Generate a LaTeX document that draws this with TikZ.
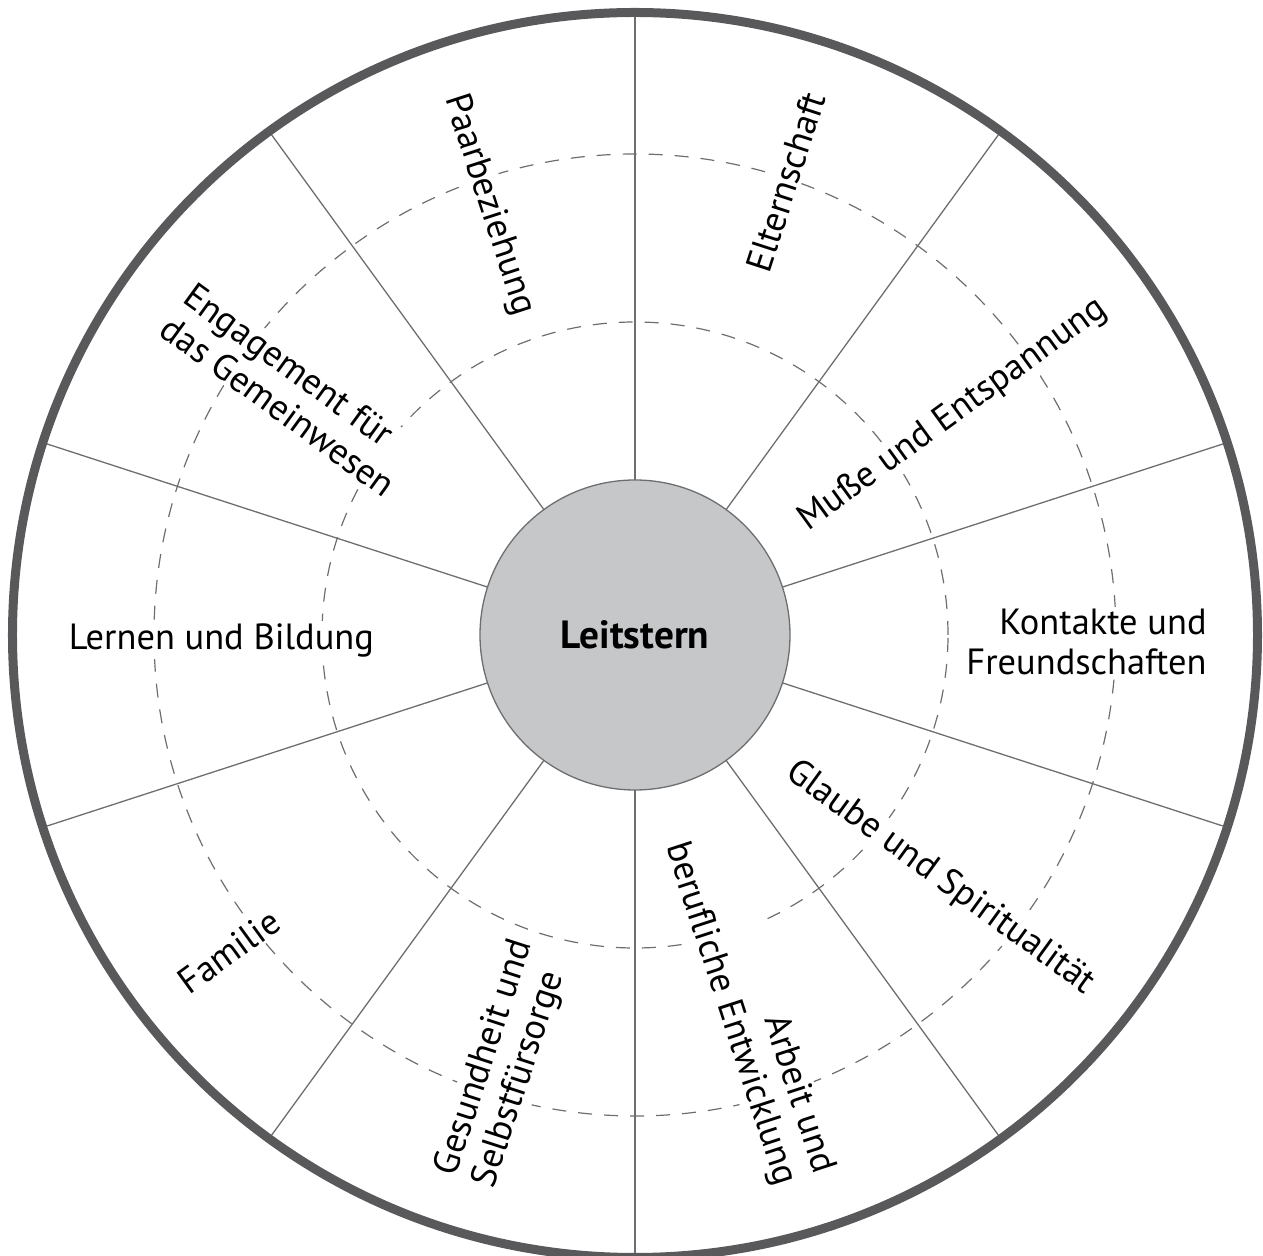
\documentclass[tikz,border=0pt]{standalone}
\usepackage{fontspec}
\setmainfont{PT Sans}
\definecolor{outergray}{HTML}{59595B}
\definecolor{linegray}{HTML}{6D6E71}
\definecolor{centergray}{HTML}{C6C7C9}
\newlength\reflen
\AtBeginDocument{%
  \settowidth\reflen{\normalfont\fontsize{10pt}{12pt}\selectfont Lernen und Bildung}%
  \pgfmathsetmacro\fsz{10*152.5/\reflen}%
  \xdef\fsz{\fsz}%
  \pgfmathsetmacro\fszb{1.08*\fsz}%
  \xdef\fszb{\fszb}%
}
\begin{document}
\begin{tikzpicture}[x=0.5pt,y=0.5pt]
\tikzset{
  lab/.style={font=\fontsize{\fsz pt}{20pt}\selectfont, fill=white, inner sep=1pt, text=black},
  dashline/.style={draw=linegray, line width=0.6pt, dash pattern=on 7pt off 6pt},
  spoke/.style={draw=linegray, line width=0.65pt},
  rim/.style={draw=outergray, line width=4.5pt},
  hub/.style={circle, draw=linegray, fill=centergray, line width=0.65pt, minimum size=155pt, inner sep=0pt, outer sep=0pt, font=\fontsize{\fszb pt}{22pt}\selectfont\bfseries}
}
\useasboundingbox (-635,-621) rectangle (628,635);
\clip (-635,-621) rectangle (628,635);
\coordinate (C) at (0,0);
% dashed rings
\draw[dashline] (C) circle[radius=313];
\draw[dashline] (C) circle[radius=481];
% labels
\node[lab, rotate=-72] (paar) at (-146,430) {Paarbeziehung};
\node[lab, rotate=72] (eltern) at (151,453) {Elternschaft};
\node[lab, rotate=36] (musse) at (318,220) {Muße und Entspannung};
\node[lab, align=right, anchor=east] (kontakte) at (574,-6.5) {Kontakte und\\Freundschaften};
\node[lab, rotate=-36] (glaube) at (305,-243) {Glaube und Spiritualität};
\node[lab, rotate=-72, align=right] (arbeit) at (114,-373) {Arbeit und\\berufliche Entwicklung};
\node[lab, rotate=72, align=left] (gesund) at (-131,-429) {Gesundheit und\\Selbstfürsorge};
\node[lab, rotate=36] (familie) at (-406,-316) {Familie};
\node[lab] (lernen) at (-413.5,-5) {Lernen und Bildung};
\node[lab, rotate=-36, align=left] (engag) at (-345,245) {Engagement für\\das Gemeinwesen};
% hub
\node[hub] (leit) at (C) {Leitstern};
% spokes
\foreach \a in {18,54,90,126,162,198,234,270,306,342}{
  \coordinate (o\a) at (\a:622.5);
  \draw[spoke] (leit.\a) -- (o\a);
}
% rim
\draw[rim] (C) circle[radius=622.5];
\end{tikzpicture}
\end{document}
